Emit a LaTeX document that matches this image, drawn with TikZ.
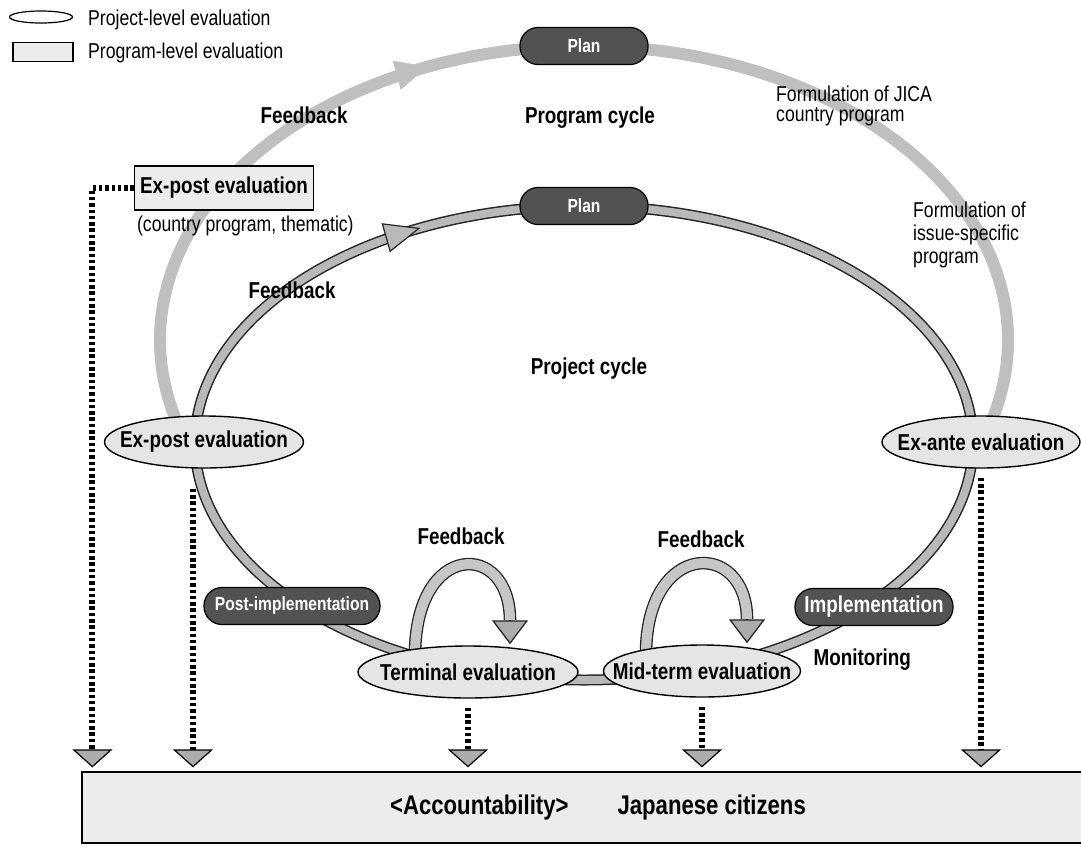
\documentclass[tikz,border=0pt]{standalone}
\usepackage{fontspec}
\setmainfont{Liberation Sans}[FakeStretch=0.82]
\usepackage{tikz}
\usetikzlibrary{shapes.geometric, arrows.meta, positioning, calc, backgrounds, decorations.markings}

\newcommand{\tight}[1]{\makebox[0pt]{#1}}

\begin{document}
\begin{tikzpicture}[
        x=1pt, y=1pt,
        lbl/.style={font={\bfseries\fontsize{23}{26}\selectfont}},
        note/.style={font={\fontsize{21.5}{23}\selectfont}, align=left, inner sep=0pt},
        evalell/.style={ellipse, draw, line width=1.4pt, fill=gray!20, inner sep=0pt, minimum height=52pt, lbl},
        phase/.style={rectangle, rounded corners=18pt, draw=black, line width=1.2pt, fill=black!68, text=white, inner xsep=8pt, minimum height=37pt, font={\bfseries\fontsize{19}{22}\selectfont}},
        prgbox/.style={rectangle, draw, line width=1.2pt, fill=gray!15, inner sep=0pt},
        prgring/.style={line width=12pt, gray!50},
        prjring/.style={draw=black!85, line width=1.5pt, double=gray!55, double distance=8pt},
        fbloop/.style={draw=black!85, line width=1.3pt, double=gray!45, double distance=10pt},
        fbtip/.style={-{Triangle[length=24pt, width=36pt, fill=gray!65, line width=1.3pt]}, line width=1.3pt, draw=black!85},
        acc/.style={line width=6pt, dash pattern=on 3.5pt off 2.8pt, -{Triangle[length=18pt, width=40pt, fill=gray!65, line width=1.2pt]}, shorten <=9pt, shorten >=4pt}
    ]
    \useasboundingbox (0,0) rectangle (1081,-847);

    % Legend
    \node[ellipse, draw, line width=1.2pt, fill=white, minimum width=63pt, minimum height=12pt, inner sep=0pt] (keyell) at (41,-17) {};
    \node[note, anchor=base west] (keyelltxt) at (88,-25) {Project-level evaluation};
    \node[prgbox, minimum width=60pt, minimum height=19pt] (keybox) at (43,-52) {};
    \node[note, anchor=base west] (keyboxtxt) at (88,-58) {Program-level evaluation};

    % Phases
    \node[phase, minimum width=128pt] (plan1) at (584,-46) {Plan};
    \node[phase, minimum width=128pt] (plan2) at (584,-206) {Plan};
    \node[phase, minimum width=176pt] (postimpl) at (292,-606) {Post-implementation};
    \node[phase, minimum width=158pt, font={\bfseries\fontsize{23}{26}\selectfont}] (impl) at (874,-607) {Implementation};

    % Evaluations
    \node[prgbox, lbl, minimum width=179pt, minimum height=44pt] (prgexpost) at (224,-188) {Ex-post evaluation};
    \node[note, below right=5pt and 3pt of prgexpost.south west] (prgscope) {(country program, thematic)};
    \node[evalell, minimum width=199pt] (expost) at (204,-442) {\tight{Ex-post evaluation}};
    \node[evalell, minimum width=198pt] (exante) at (981,-442) {\tight{Ex-ante evaluation}};
    \node[evalell, minimum width=220pt] (terminal) at (468,-672) {\tight{Terminal evaluation}};
    \node[evalell, minimum width=197pt] (midterm) at (702,-671) {\tight{Mid-term evaluation}};

    % Citizens
    \node[prgbox, minimum width=1010pt, minimum height=71pt, font={\bfseries\fontsize{27}{30}\selectfont}] (citizens) at (587,-807.5) {\hspace*{22pt}\textless Accountability\textgreater\hspace{49pt}Japanese citizens};

    % Labels
    \node[lbl, anchor=base] (prgcycle) at (590,-123) {Program cycle};
    \node[lbl, anchor=base] (prjcycle) at (589,-374) {Project cycle};
    \node[lbl, anchor=base] (fbprg) at (304,-123) {Feedback};
    \node[lbl, anchor=base] (fbprj) at (292,-298) {Feedback};
    \node[lbl, anchor=base] (fbterm) at (461,-544) {Feedback};
    \node[lbl, anchor=base] (fbmid) at (701,-547) {Feedback};
    \node[lbl, anchor=base west] (monitor) at (810,-665) {Monitoring};
    \node[note, anchor=north west] (jicaprg) at (776,-86) {Formulation of JICA\\[-3pt]country program};
    \node[note, anchor=north west] (issueprg) at (913,-202) {Formulation of\\issue-specific\\program};

    \begin{scope}[on background layer]
    % Program cycle
    \draw[prgring] (plan1.center) arc[start angle=90, end angle=-20, x radius=424, y radius=294];
    \draw[prgring] (plan1.center) arc[start angle=90, end angle=200, x radius=424, y radius=294];
    \draw[decorate, decoration={markings, mark=at position 0.235 with {\arrowreversed{Triangle[length=32pt, width=30pt, fill=gray!50, color=gray!50]}}}] (plan1.center) arc[start angle=90, end angle=200, x radius=424, y radius=294];

    % Project cycle
    \draw[prjring] (plan2.center) arc[start angle=90, end angle=-270, x radius=389, y radius=237];
    \draw[decorate, decoration={markings, mark=at position 0.917 with {\arrow{Triangle[length=36pt, width=30pt, fill=gray!55, color=black!85, line width=1.2pt]}}}] (plan2.center) arc[start angle=90, end angle=-270, x radius=389, y radius=237];

    % Feedback loops
    \draw[fbloop] ($(terminal.north)+(-53,-10)$) .. controls +(0,115) and +(0,80) .. ($(terminal.north)+(42,25)$);
    \draw[fbtip] ($(terminal.north)+(42,25)$) -- ($(terminal.north)+(42,1)$);
    \draw[fbloop] ($(midterm.north)+(-56,-10)$) .. controls +(0,115) and +(0,80) .. ($(midterm.north)+(45,25)$);
    \draw[fbtip] ($(midterm.north)+(45,25)$) -- ($(midterm.north)+(45,1)$);
    \end{scope}

    % Accountability
    \coordinate (epdrop) at ([xshift=-11pt]expost.south);
    \draw[acc, shorten <=0pt] (prgexpost.west) -| ($(citizens.north west)+(11,0)$);
    \draw[acc, shorten <=20pt] (epdrop) -- (epdrop |- citizens.north);
    \draw[acc] (terminal.south) -- (terminal.south |- citizens.north);
    \draw[acc] (midterm.south) -- (midterm.south |- citizens.north);
    \draw[acc] (exante.south) -- (exante.south |- citizens.north);

\end{tikzpicture}
\end{document}
